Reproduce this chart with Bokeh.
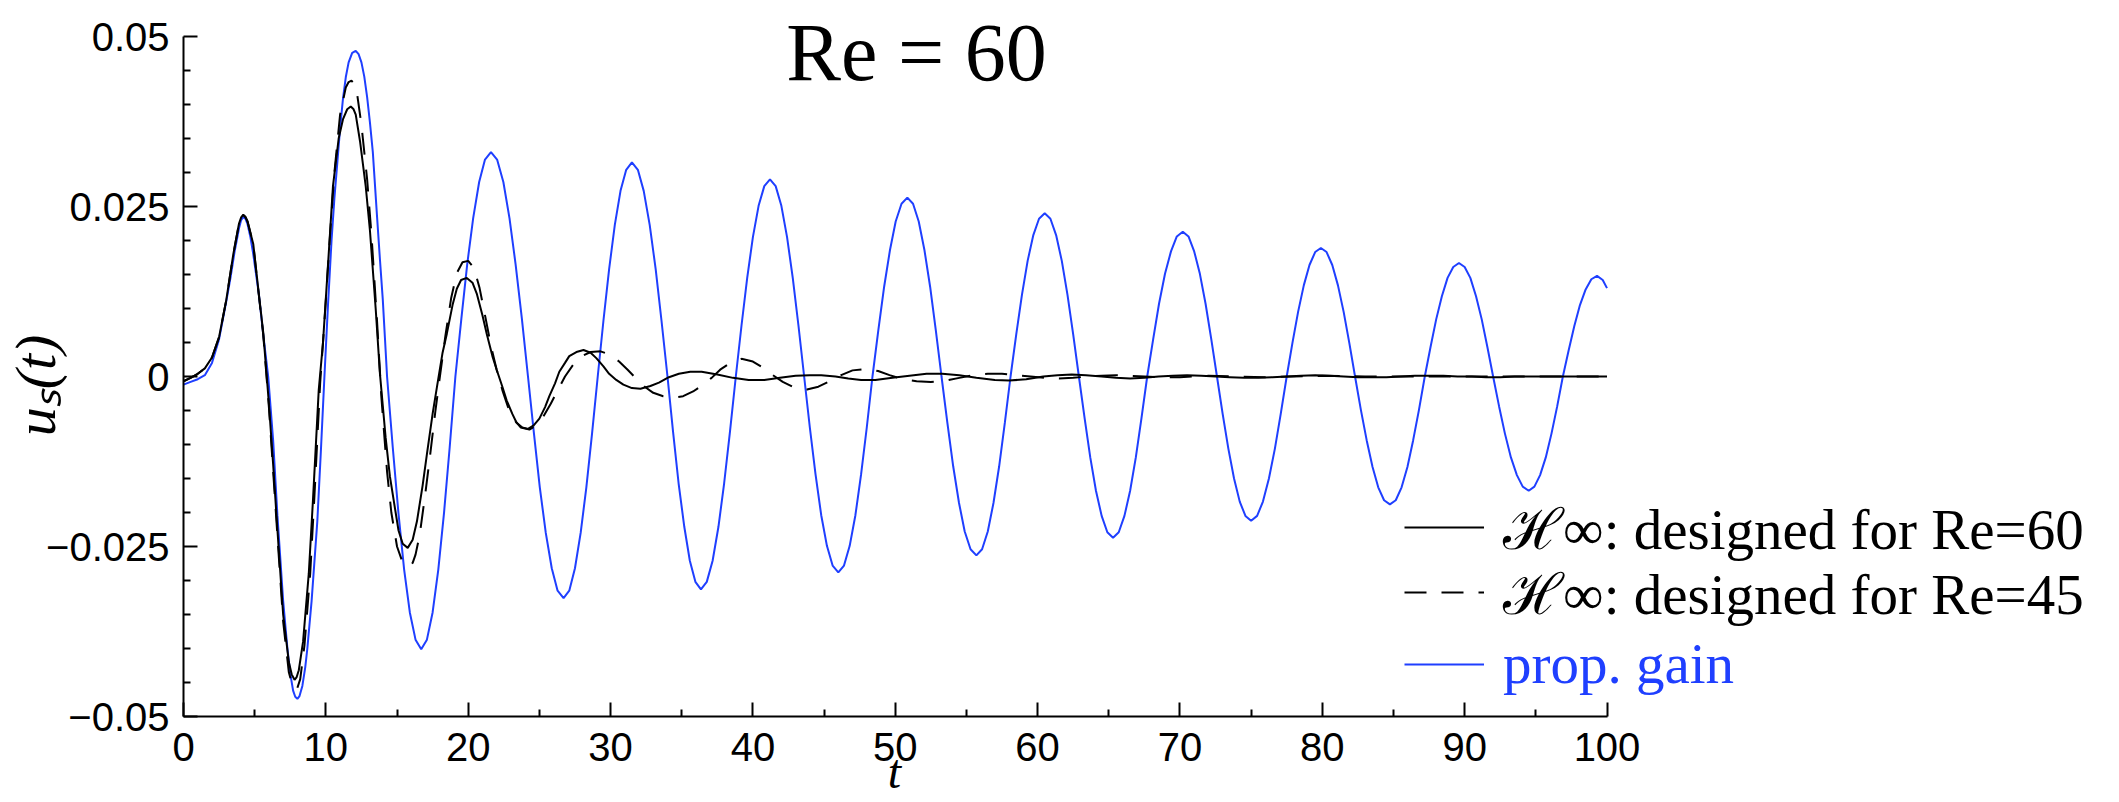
import math
from bokeh.plotting import figure
from bokeh.models import (Range1d, FixedTicker, Legend, LegendItem, Label,
                          CustomJSTickFormatter)
from bokeh.embed import file_html
from bokeh.resources import INLINE

# ---------------- data ----------------
x_major = [0, 10, 20, 30, 40, 50, 60, 70, 80, 90, 100]
x_minor = [5, 15, 25, 35, 45, 55, 65, 75, 85, 95]
y_major = [-0.05, -0.025, 0.0, 0.025, 0.05]
y_minor = [-0.045, -0.04, -0.035, -0.03, -0.02, -0.015, -0.01, -0.005,
           0.005, 0.01, 0.015, 0.02, 0.03, 0.035, 0.04, 0.045]

# proportional gain (blue)
t_prop = [0, 0.5, 1.0, 1.5, 2.0, 2.5, 3.0, 3.3, 3.6, 3.9, 4.05, 4.2, 4.35, 4.5, 4.7, 4.9,
          5.3, 5.6, 5.95, 6.3, 6.6, 7.0, 7.3, 7.5, 7.7, 7.85, 8.0, 8.15, 8.35, 8.55, 8.7,
          9.0, 9.4, 9.65, 9.9, 10.15, 10.4, 10.6, 10.8, 11.0, 11.2, 11.4, 11.6, 11.85, 12.1,
          12.3, 12.5, 12.7, 12.9, 13.1, 13.3, 13.6, 13.8, 14.0, 14.15, 14.3,
          14.7, 15.1, 15.5, 15.9, 16.3, 16.7, 17.1, 17.5, 17.9, 18.3, 18.7, 19.1,
          19.52, 19.93, 20.35, 20.77, 21.18, 21.6, 22.03, 22.47, 22.9, 23.33, 23.77, 24.2,
          24.62, 25.03, 25.45, 25.87, 26.28, 26.7, 27.1, 27.5, 27.9, 28.3, 28.7, 29.1,
          29.5, 29.9, 30.3, 30.7, 31.1, 31.5, 31.92, 32.33, 32.75, 33.17, 33.58, 34.0,
          34.39, 34.78, 35.18, 35.57, 35.96, 36.35, 36.76, 37.17, 37.58, 37.98, 38.39, 38.8,
          39.2, 39.6, 40.0, 40.4, 40.8, 41.2, 41.6, 42.0, 42.4, 42.8, 43.2, 43.6,
          44.0, 44.4, 44.8, 45.2, 45.6, 46.0, 46.4, 46.8, 47.2, 47.6, 48.0, 48.4,
          48.81, 49.22, 49.63, 50.03, 50.44, 50.85, 51.25, 51.65, 52.05, 52.45, 52.85, 53.25,
          53.66, 54.07, 54.48, 54.88, 55.29, 55.7, 56.1, 56.5, 56.9, 57.3, 57.7, 58.1,
          58.5, 58.9, 59.3, 59.7, 60.1, 60.5, 60.9, 61.3, 61.7, 62.1, 62.5, 62.9,
          63.3, 63.7, 64.1, 64.5, 64.9, 65.3, 65.7, 66.1, 66.5, 66.9, 67.3, 67.7,
          68.12, 68.53, 68.95, 69.37, 69.78, 70.2, 70.6, 71.0, 71.4, 71.8, 72.2, 72.6,
          73.0, 73.4, 73.8, 74.2, 74.6, 75.0, 75.42, 75.83, 76.25, 76.67, 77.08, 77.5,
          77.9, 78.3, 78.7, 79.1, 79.5, 79.9, 80.3, 80.7, 81.1, 81.5, 81.9, 82.3,
          82.71, 83.12, 83.53, 83.93, 84.34, 84.75, 85.16, 85.57, 85.98, 86.38, 86.79, 87.2,
          87.6, 88.0, 88.4, 88.8, 89.2, 89.6, 90.0, 90.4, 90.8, 91.2, 91.6, 92.0,
          92.42, 92.83, 93.25, 93.67, 94.08, 94.5, 94.9, 95.3, 95.7, 96.1, 96.5, 96.9,
          97.3, 97.7, 98.1, 98.5, 98.9, 99.3, 99.7, 100.0]
u_prop = [-0.0012, -0.0008, -0.0004, 0.0002, 0.0020, 0.0055, 0.0110, 0.0145, 0.0185, 0.0218,
          0.0230, 0.0235, 0.0232, 0.0224, 0.0205, 0.0180,
          0.0120, 0.0062, 0.0, -0.0095, -0.0205, -0.0330, -0.0400, -0.0437, -0.0462, -0.0471,
          -0.0474, -0.0470, -0.0455, -0.0428, -0.0400,
          -0.0330, -0.0213, -0.0110, 0.0, 0.0105, 0.0200, 0.0262, 0.0313, 0.0365, 0.0408,
          0.0440, 0.0462, 0.0476, 0.0479,
          0.0474, 0.0462, 0.0441, 0.0411, 0.0373, 0.0330, 0.0234, 0.0172, 0.0113, 0.0057, 0.0,
          -0.0104, -0.0201, -0.0284, -0.0347, -0.0387, -0.0401, -0.0387, -0.0347, -0.0284, -0.0201, -0.0104, 0.0,
          0.0085, 0.0165, 0.0233, 0.0286, 0.0319, 0.0330, 0.0319, 0.0286, 0.0233, 0.0165, 0.0085, 0.0,
          -0.0084, -0.0163, -0.0230, -0.0282, -0.0315, -0.0326, -0.0315, -0.0282, -0.0230, -0.0163, -0.0084, 0.0,
          0.0082, 0.0158, 0.0223, 0.0273, 0.0304, 0.0315, 0.0304, 0.0273, 0.0223, 0.0158, 0.0082, 0.0,
          -0.0081, -0.0157, -0.0221, -0.0271, -0.0302, -0.0313, -0.0302, -0.0271, -0.0221, -0.0157, -0.0081, 0.0,
          0.0075, 0.0145, 0.0205, 0.0251, 0.0280, 0.0290, 0.0280, 0.0251, 0.0205, 0.0145, 0.0075, 0.0,
          -0.0075, -0.0144, -0.0204, -0.0249, -0.0278, -0.0288, -0.0278, -0.0249, -0.0204, -0.0144, -0.0075, 0.0,
          0.0068, 0.0132, 0.0186, 0.0228, 0.0254, 0.0263, 0.0254, 0.0228, 0.0186, 0.0132, 0.0068, 0.0,
          -0.0068, -0.0132, -0.0186, -0.0228, -0.0254, -0.0263, -0.0254, -0.0228, -0.0186, -0.0132, -0.0068, 0.0,
          0.0062, 0.0120, 0.0170, 0.0208, 0.0232, 0.0240, 0.0232, 0.0208, 0.0170, 0.0120, 0.0062, 0.0,
          -0.0061, -0.0119, -0.0168, -0.0205, -0.0229, -0.0237, -0.0229, -0.0205, -0.0168, -0.0119, -0.0061, 0.0,
          0.0055, 0.0107, 0.0151, 0.0184, 0.0206, 0.0213, 0.0206, 0.0184, 0.0151, 0.0107, 0.0055, 0.0,
          -0.0055, -0.0106, -0.0150, -0.0184, -0.0205, -0.0212, -0.0205, -0.0184, -0.0150, -0.0106, -0.0055, 0.0,
          0.0049, 0.0095, 0.0134, 0.0164, 0.0183, 0.0189, 0.0183, 0.0164, 0.0134, 0.0095, 0.0049, 0.0,
          -0.0049, -0.0094, -0.0133, -0.0163, -0.0182, -0.0188, -0.0182, -0.0163, -0.0133, -0.0094, -0.0049, 0.0,
          0.0043, 0.0084, 0.0118, 0.0145, 0.0161, 0.0167, 0.0161, 0.0145, 0.0118, 0.0084, 0.0043, 0.0,
          -0.0044, -0.0084, -0.0119, -0.0145, -0.0162, -0.0168, -0.0162, -0.0145, -0.0119, -0.0084, -0.0044, 0.0,
          0.0038, 0.0074, 0.0105, 0.0128, 0.0143, 0.0148, 0.0142, 0.0130]

# H-infinity controller designed for Re=60 (solid black)
t_h60 = [0, 0.5, 1.0, 1.5, 2.0, 2.5, 3.0, 3.5, 3.9, 4.05, 4.2, 4.35,
         4.5, 4.9, 5.3, 5.6, 6.0, 6.3, 6.6, 7.0, 7.4, 7.6, 7.8, 7.95,
         8.1, 8.4, 8.8, 9.1, 9.5, 9.8, 10.2, 10.5, 10.9, 11.2, 11.5,
         11.75, 11.95, 12.1, 12.4, 12.8, 13.1, 13.5, 13.8, 14.2, 14.5, 15.1,
         15.4, 15.75, 16.1, 16.4, 16.8, 17.1, 17.5, 17.8, 18.2, 18.5,
         18.9, 19.2, 19.5, 19.9, 20.3, 20.6, 21.0, 21.3, 21.7, 22.0,
         22.4, 22.7, 23.1, 23.4, 23.8, 24.2, 24.6, 25.0, 25.4, 25.7,
         26.1, 26.4, 26.8, 27.1, 27.6, 28.1, 28.6, 29.0, 29.5, 29.9,
         30.4, 30.9, 31.5, 32.1, 32.8, 33.4, 34.1, 34.8, 35.6, 36.4,
         37.5, 38.6, 39.7, 40.8, 41.9, 43.0, 44.0, 44.8, 45.8, 46.7,
         47.6, 48.6, 49.8, 51.0, 52.2, 53.3, 54.5, 55.7, 57.0, 58.0,
         59.2, 60.4, 61.4, 62.4, 63.4, 64.5, 65.5, 66.5, 67.5, 68.5,
         69.5, 70.5, 71.5, 72.5, 73.5, 74.5, 75.5, 76.5, 77.5, 78.5,
         79.5, 80.5, 81.5, 82.5, 83.5, 84.5, 85.5, 86.5, 87.5, 88.5,
         89.5, 90.5, 91.5, 92.5, 93.5, 95.0, 97.0, 100.0]
u_h60 = [-0.0007, -0.0002, 0.0004, 0.0012, 0.0028, 0.0058, 0.0112, 0.0180, 0.0225, 0.0234, 0.0238, 0.0235,
         0.0228, 0.0195, 0.0120, 0.0065, -0.0040, -0.0130, -0.0226, -0.0350, -0.0420, -0.0438, -0.0446, -0.0442,
         -0.0432, -0.0390, -0.0290, -0.0180, -0.0020, 0.0050, 0.0180, 0.0280, 0.0350, 0.0378, 0.0393,
         0.0397, 0.0393, 0.0385, 0.0346, 0.0280, 0.0214, 0.0100, 0.0004, -0.0090, -0.0147, -0.0226,
         -0.0246, -0.0252, -0.0240, -0.0213, -0.0160, -0.0114, -0.0055, -0.0016, 0.0035, 0.0063,
         0.0105, 0.0129, 0.0142, 0.0145, 0.0138, 0.0122, 0.0090, 0.0063, 0.0030, 0.0010,
         -0.0015, -0.0035, -0.0055, -0.0068, -0.0075, -0.0077, -0.0072, -0.0062, -0.0045, -0.0029,
         -0.0010, 0.0007, 0.0020, 0.0030, 0.0036, 0.0039, 0.0035, 0.0027, 0.0015, 0.0004,
         -0.0005, -0.0012, -0.0017, -0.0018, -0.0014, -0.0009, -0.0001, 0.0004, 0.0007, 0.0007,
         0.0003, -0.0002, -0.0005, -0.0005, -0.0002, 0.0001, 0.0002, 0.0002, 0.0000, -0.0003,
         -0.0005, -0.0005, -0.0002, 0.0001, 0.0004, 0.0004, 0.0002, -0.0002, -0.0005, -0.0006,
         -0.0004, 0.0000, 0.0002, 0.0003, 0.0002, 0.0000, -0.0002, -0.0003, -0.0002, 0.0000,
         0.0001, 0.0002, 0.0001, 0.0000, -0.0001, -0.0002, -0.0002, -0.0001, 0.0000, 0.0001,
         0.0002, 0.0001, 0.0000, -0.0001, -0.0001, -0.0001, 0.0000, 0.0001, 0.0001, 0.0001,
         0.0000, 0.0000, -0.0001, -0.0001, 0.0000, 0.0000, 0.0000, 0.0000]

# H-infinity controller designed for Re=45 (dashed black)
t_h45 = [0, 0.5, 1.0, 1.5, 2.0, 2.5, 3.0, 3.5, 3.9, 4.05, 4.2, 4.35,
         4.5, 4.9, 5.3, 5.6, 6.0, 6.3, 6.6, 7.0, 7.4, 7.65, 7.85, 8.0,
         8.2, 8.5, 8.9, 9.2, 9.6, 9.9, 10.3, 10.6, 11.0, 11.4, 11.6,
         11.8, 12.0, 12.2, 12.5, 12.9, 13.2, 13.6, 13.9, 14.3, 14.6, 15.0,
         15.4, 15.65, 15.9, 16.1, 16.3, 16.6, 17.0, 17.3, 17.7, 18.0, 18.4, 18.8,
         19.2, 19.6, 20.0, 20.4, 20.8, 21.2, 21.6, 22.0, 22.4, 22.8,
         23.2, 23.7, 24.3, 24.8, 25.3, 25.8, 26.3, 26.8, 27.4, 28.0,
         28.6, 29.3, 30.0, 30.6, 31.2, 31.8, 32.4, 33.0, 33.7, 34.4,
         35.1, 35.8, 36.5, 37.1, 37.7, 38.4, 39.2, 40.0, 40.7, 41.4,
         42.1, 42.9, 43.8, 44.6, 45.4, 46.2, 47.0, 47.9, 48.8, 49.6,
         50.5, 51.5, 52.5, 53.5, 54.5, 55.5, 56.5, 57.5, 58.5, 59.5,
         60.5, 61.5, 62.5, 63.5, 64.5, 65.5, 66.5, 67.5, 68.5, 70.0,
         72.0, 74.0, 76.0, 78.0, 80.0, 83.0, 86.0, 90.0, 95.0, 100.0]
u_h45 = [-0.0007, -0.0002, 0.0004, 0.0012, 0.0028, 0.0058, 0.0112, 0.0180, 0.0225, 0.0233, 0.0237, 0.0234,
         0.0228, 0.0195, 0.0118, 0.0062, -0.0045, -0.0140, -0.0235, -0.0360, -0.0435, -0.0454, -0.0460, -0.0458,
         -0.0445, -0.0395, -0.0290, -0.0175, -0.0010, 0.0080, 0.0210, 0.0300, 0.0385, 0.0425, 0.0433,
         0.0435, 0.0430, 0.0415, 0.0370, 0.0290, 0.0210, 0.0080, -0.0030, -0.0140, -0.0200, -0.0250,
         -0.0274, -0.0278, -0.0279, -0.0274, -0.0262, -0.0232, -0.0170, -0.0120, -0.0050, -0.0002, 0.0060, 0.0115,
         0.0152, 0.0168, 0.0170, 0.0160, 0.0130, 0.0088, 0.0045, 0.0010, -0.0020, -0.0045,
         -0.0063, -0.0075, -0.0078, -0.0072, -0.0058, -0.0040, -0.0020, 0.0000, 0.0018, 0.0030,
         0.0036, 0.0037, 0.0032, 0.0022, 0.0010, -0.0003, -0.0015, -0.0024, -0.0029, -0.0031,
         -0.0029, -0.0022, -0.0012, -0.0002, 0.0010, 0.0020, 0.0026, 0.0022, 0.0013, 0.0002,
         -0.0008, -0.0016, -0.0019, -0.0015, -0.0007, 0.0002, 0.0009, 0.0011, 0.0008, 0.0002,
         -0.0004, -0.0007, -0.0008, -0.0006, -0.0002, 0.0002, 0.0004, 0.0004, 0.0002, 0.0000,
         -0.0002, -0.0003, -0.0002, 0.0000, 0.0001, 0.0002, 0.0001, 0.0000, -0.0001, -0.0001,
         0.0001, 0.0000, -0.0001, 0.0000, 0.0001, 0.0000, 0.0000, 0.0000, 0.0000, 0.0000]

legend_labels = ["\u210b\u221e: designed for Re=60",
                 "\u210b\u221e: designed for Re=45",
                 "prop. gain"]
title_text = "Re = 60"
y_label = "u\u209b(t)"
x_label = "t"

BLUE = "#1f3fff"

# ---------------- figure ----------------
W, H = 2119, 802
AX_L, AX_R, AX_T, AX_B = 183.0, 1606.5, 36.0, 716.0   # pixel box of the axes
sx = (AX_R - AX_L) / 100.0
sy = (AX_B - AX_T) / 0.1
x0 = -AX_L / sx
x1 = x0 + W / sx
y1 = 0.05 + AX_T / sy
y0 = y1 - H / sy

p = figure(width=W, height=H, output_backend="svg", toolbar_location=None,
           x_range=Range1d(x0, x1), y_range=Range1d(y0, y1),
           min_border=0, min_border_left=0, min_border_right=0,
           min_border_top=0, min_border_bottom=0,
           background_fill_color="white", border_fill_color="white")
p.outline_line_color = None
p.grid.visible = False

xa = p.xaxis[0]
ya = p.yaxis[0]
xa.fixed_location = -0.05
xa.bounds = (0, 100)
ya.fixed_location = 0
ya.bounds = (-0.05, 0.05)
xa.ticker = FixedTicker(ticks=x_major, minor_ticks=x_minor)
ya.ticker = FixedTicker(ticks=y_major, minor_ticks=y_minor)
ya.formatter = CustomJSTickFormatter(code="""
if (Math.abs(tick) < 1e-12) { return "0"; }
const s = Math.abs(tick).toString();
return (tick < 0 ? "\\u2212" : "") + s;
""")

for ax in (xa, ya):
    ax.major_tick_in = 14
    ax.major_tick_out = 0
    ax.minor_tick_in = 7
    ax.minor_tick_out = 0
    ax.axis_line_width = 2
    ax.axis_line_color = "black"
    ax.major_tick_line_width = 2
    ax.minor_tick_line_width = 2
    ax.major_tick_line_color = "black"
    ax.minor_tick_line_color = "black"
    ax.major_label_text_font = "Liberation Sans"
    ax.major_label_text_font_size = "40px"
    ax.major_label_text_color = "black"
xa.major_label_standoff = 16
ya.major_label_standoff = 14

r_prop = p.line(t_prop, u_prop, line_color=BLUE, line_width=2)
r_h45 = p.line(t_h45, u_h45, line_color="black", line_width=2, line_dash="22 15")
r_h60 = p.line(t_h60, u_h60, line_color="black", line_width=2)

leg_kw = dict(glyph_width=80, glyph_height=30, label_standoff=19, padding=0, margin=0,
              spacing=0, background_fill_alpha=0, border_line_color=None,
              label_text_font="Liberation Serif", label_text_font_size="57px",
              label_text_baseline="middle")
# one legend per row so that each row sits where the reference puts it
row_centers = [536, 601, 666]
row_colors = ["black", "black", BLUE]
for lab, rend, cy, col in zip(legend_labels, [r_h60, r_h45, r_prop], row_centers, row_colors):
    leg = Legend(items=[LegendItem(label=lab, renderers=[rend])],
                 location=(1404, H - cy - 30), label_text_color=col, **leg_kw)
    p.add_layout(leg)

p.add_layout(Label(x=916, y=H - 52, x_units="screen", y_units="screen",
                   text=title_text, text_align="center", text_baseline="middle",
                   text_font="Liberation Serif", text_font_size="82px", text_color="black"))
p.add_layout(Label(x=35, y=H - 385, x_units="screen", y_units="screen",
                   text=y_label, angle=math.pi / 2, text_align="center", text_baseline="middle",
                   text_font="Liberation Serif", text_font_style="italic",
                   text_font_size="58px", text_color="black"))
p.add_layout(Label(x=894, y=H - 771, x_units="screen", y_units="screen",
                   text=x_label, text_align="center", text_baseline="middle",
                   text_font="Liberation Serif", text_font_style="italic",
                   text_font_size="48px", text_color="black"))

open("out.html", "w").write(file_html(p, INLINE))
